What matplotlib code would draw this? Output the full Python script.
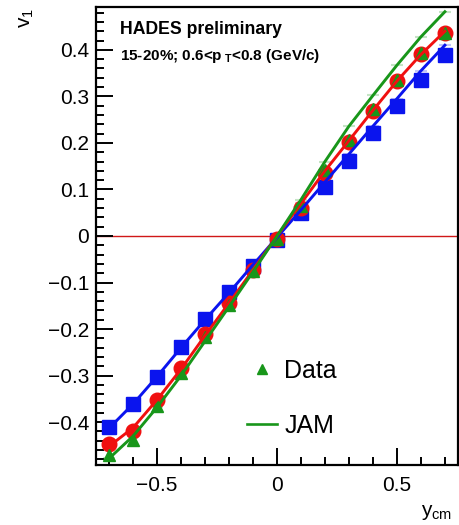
import matplotlib
matplotlib.use('Agg')
from matplotlib import pyplot as plt
from matplotlib.lines import Line2D
from matplotlib.ticker import MultipleLocator, FuncFormatter

plt.rcParams['font.family'] = ['Liberation Sans', 'DejaVu Sans']
plt.rcParams['mathtext.fontset'] = 'custom'
plt.rcParams['mathtext.rm'] = 'Liberation Sans'
plt.rcParams['mathtext.it'] = 'Liberation Sans'
plt.rcParams['mathtext.bf'] = 'Liberation Sans:bold'

# rapidity bins
y_cm = [-0.7, -0.6, -0.5, -0.4, -0.3, -0.2, -0.1, 0.0, 0.1, 0.2, 0.3, 0.4, 0.5, 0.6, 0.7]

# points (blue squares, red circles, green triangles = Data)
v1_blue = [-0.411, -0.361, -0.303, -0.239, -0.179, -0.121, -0.064, -0.008, 0.049, 0.105, 0.161, 0.221, 0.280, 0.335, 0.389]
v1_red = [-0.447, -0.419, -0.353, -0.284, -0.211, -0.143, -0.074, -0.007, 0.060, 0.136, 0.202, 0.269, 0.334, 0.391, 0.437]
v1_green = [-0.471, -0.439, -0.366, -0.294, -0.218, -0.148, -0.075, -0.006, 0.065, 0.142, 0.206, 0.273, 0.336, 0.393, 0.436]

# model curves (JAM)
jam_blue = [-0.413, -0.361, -0.302, -0.240, -0.180, -0.122, -0.062, -0.003, 0.056, 0.116, 0.176, 0.236, 0.295, 0.355, 0.410]
jam_red = [-0.452, -0.412, -0.352, -0.286, -0.214, -0.144, -0.073, 0.0, 0.070, 0.140, 0.205, 0.270, 0.333, 0.390, 0.440]
jam_green = [-0.478, -0.430, -0.368, -0.300, -0.226, -0.152, -0.077, 0.0, 0.078, 0.160, 0.236, 0.302, 0.367, 0.428, 0.482]

c_blue = '#0a14ee'
c_red = '#f01010'
c_green = '#18961a'

fig = plt.figure(figsize=(4.59, 5.25), dpi=100)
ax = fig.add_axes([0.209, 0.114, 0.789, 0.873])

ax.axhline(0, color='#d01818', lw=1.0, zorder=1)

# faint model error caps
ax.plot(y_cm, jam_blue, ls='none', marker='_', ms=9, mew=1.5, color=c_blue, alpha=0.25, zorder=2)
ax.plot(y_cm, jam_red, ls='none', marker='_', ms=9, mew=1.5, color=c_red, alpha=0.25, zorder=2)
ax.plot(y_cm, jam_green, ls='none', marker='_', ms=9, mew=1.5, color=c_green, alpha=0.25, zorder=2)

ax.plot(y_cm, v1_blue, ls='none', marker='s', ms=10, color=c_blue, mec=c_blue, zorder=3)
ax.plot(y_cm, v1_red, ls='none', marker='o', ms=10.5, color=c_red, mec=c_red, zorder=3)
ax.plot(y_cm, v1_green, ls='none', marker='^', ms=9, color=c_green, mec=c_green, zorder=4)

ax.plot(y_cm, jam_blue, color=c_blue, lw=2.1, zorder=5)
ax.plot(y_cm, jam_red, color=c_red, lw=2.1, zorder=5)
ax.plot(y_cm, jam_green, color=c_green, lw=2.1, zorder=5)

ax.set_xlim(-0.755, 0.755)
ax.set_ylim(-0.4925, 0.4925)

ax.xaxis.set_major_locator(MultipleLocator(0.5))
ax.xaxis.set_minor_locator(MultipleLocator(0.1))
ax.yaxis.set_major_locator(MultipleLocator(0.1))
ax.yaxis.set_minor_locator(MultipleLocator(0.02))

def fmt(v, pos):
    if abs(v) < 1e-9:
        return '0'
    return ('%g' % round(v, 2)).replace('-', '\u2212')

ax.xaxis.set_major_formatter(FuncFormatter(fmt))
ax.yaxis.set_major_formatter(FuncFormatter(fmt))

ax.tick_params(which='both', direction='in', top=False, right=False, width=1.4, labelsize=15)
ax.tick_params(which='major', length=12)
ax.tick_params(which='minor', length=6)
ax.tick_params(axis='y', pad=5)
ax.tick_params(axis='x', pad=8)
for s in ax.spines.values():
    s.set_linewidth(1.6)

ax.text(0.066, 0.968, 'HADES preliminary', transform=ax.transAxes, fontsize=12.7, fontweight='bold', va='top')
ax.text(0.066, 0.912, '15-20%; 0.6<p' + r'$_{\ \mathbf{T}}$' + '<0.8 (GeV/c)', transform=ax.transAxes,
        fontsize=11, fontweight='bold', va='top')

fig.text(0.058, 0.985, r'v$_1$', rotation=90, fontsize=15, ha='center', va='top')
fig.text(0.985, 0.005, r'y$_{\mathrm{cm}}$', fontsize=15, ha='right', va='bottom')

handles = [Line2D([], [], ls='none', marker='^', ms=7.5, color=c_green),
           Line2D([], [], color=c_green, lw=1.9)]
ax.legend(handles, ['Data', 'JAM'], loc='upper left', bbox_to_anchor=(0.417, 0.232),
          frameon=False, fontsize=18, labelspacing=1.25, handlelength=1.2, handletextpad=0.3,
          borderpad=0, borderaxespad=0)

fig.savefig('out.png', dpi=100)
